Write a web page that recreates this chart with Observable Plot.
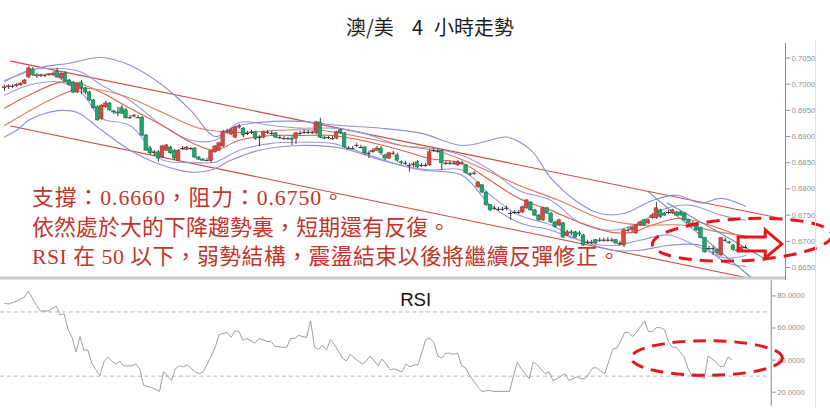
<!DOCTYPE html>
<html><head><meta charset="utf-8">
<script src="https://cdn.jsdelivr.net/npm/d3@7"></script>
<script src="https://cdn.jsdelivr.net/npm/@observablehq/plot@0.6"></script>
<style>
html,body{margin:0;padding:0;background:#fff;}
#wrap{position:relative;width:830px;height:408px;overflow:hidden;font-family:"Liberation Sans",Arial,sans-serif;}
#price{position:absolute;top:43px;left:0;}
#rsi{position:absolute;top:280px;left:0;width:815px;height:128px;overflow:hidden;}
#over{position:absolute;left:0;top:0;}
#edge{position:absolute;left:815px;top:40px;width:1px;height:368px;background:#e2e2e2;}
</style></head>
<body><div id="wrap"><div id="price"></div><div id="rsi"></div><div id="edge"></div></div>
<script>
// ---- data (prices in pips: 1 pip = 0.0001) ----
const titleParts = ["澳/美", "4", "小時走勢"];
const noteLines = ["支撐：0.6660，阻力：0.6750。", "依然處於大的下降趨勢裏，短期還有反復。", "RSI 在 50 以下，弱勢結構，震盪結束以後將繼續反彈修正。"];
const priceTicks = [0.6650, 0.6700, 0.6750, 0.6800, 0.6850, 0.6900, 0.6950, 0.7000, 0.7050];
const rsiTicks = [20, 40, 60, 80];
const rsiLevels = [30, 70];

const openP = [6992,6994,6996,6996,6998,7001,7013,7028,7017,7015,7017,7017,7017,7024,7011,7020,7007,7003,6984,7003,
6992,6984,6969,6956,6933,6956,6963,6948,6946,6954,6950,6936,6938,6936,6936,6902,6877,6870,6870,6860,
6873,6879,6873,6854,6877,6875,6877,6877,6860,6856,6854,6853,6870,6873,6881,6908,6904,6898,6917,6915,
6906,6908,6908,6898,6898,6908,6906,6906,6898,6896,6896,6896,6896,6906,6908,6908,6908,6906,6927,6898,
6898,6896,6896,6912,6906,6877,6877,6883,6879,6879,6868,6870,6873,6877,6864,6858,6868,6864,6851,6849,
6845,6845,6851,6845,6845,6845,6873,6872,6873,6849,6849,6849,6845,6849,6845,6828,6830,6803,6807,6793,
6769,6763,6761,6761,6763,6753,6755,6755,6755,6763,6774,6759,6749,6740,6763,6753,6736,6730,6734,6711,
6717,6717,6715,6711,6698,6698,6702,6702,6702,6702,6702,6702,6696,6692,6721,6721,6715,6730,6740,6734,
6744,6744,6759,6753,6755,6753,6755,6755,6753,6740,6734,6734,6725,6706,6686,6686,6683,6673,6702,6698,
6692,6683,6683,6688];
const closeP = [6994,6996,6996,6998,7001,7007,7030,7017,7015,7017,7017,7019,7020,7013,7020,7005,6999,6984,7001,6992,
6984,6969,6954,6931,6959,6963,6950,6946,6944,6944,6935,6936,6940,6936,6902,6873,6868,6870,6858,6881,
6883,6868,6858,6873,6877,6879,6877,6860,6856,6854,6854,6872,6881,6887,6908,6910,6912,6917,6919,6902,
6906,6908,6896,6898,6908,6908,6906,6898,6898,6896,6896,6894,6906,6906,6908,6908,6908,6927,6898,6896,
6898,6896,6908,6906,6879,6877,6877,6883,6879,6868,6868,6873,6877,6868,6858,6868,6868,6854,6849,6849,
6845,6847,6841,6845,6845,6870,6873,6872,6849,6849,6849,6849,6851,6849,6830,6826,6830,6812,6793,6769,
6759,6763,6761,6761,6763,6753,6755,6755,6765,6778,6759,6749,6740,6763,6753,6736,6727,6740,6707,6717,
6715,6707,6713,6692,6698,6698,6696,6702,6702,6702,6702,6696,6696,6721,6721,6726,6730,6736,6730,6740,
6749,6763,6746,6749,6755,6759,6749,6749,6740,6734,6734,6721,6706,6679,6686,6686,6677,6706,6702,6696,
6683,6683,6688,6688];
const highP = [6998,6999,6999,7001,7003,7009,7034,7032,7020,7019,7019,7020,7024,7030,7022,7024,7009,7005,7003,7007,
6994,6986,6971,6959,6961,6967,6965,6950,6956,6959,6954,6940,6942,6940,6938,6904,6881,6873,6873,6883,
6885,6881,6875,6875,6881,6881,6879,6879,6862,6858,6858,6873,6883,6889,6912,6914,6915,6919,6923,6917,
6910,6912,6910,6902,6910,6912,6910,6908,6902,6900,6898,6900,6908,6910,6912,6912,6910,6929,6935,6900,
6900,6900,6910,6914,6908,6881,6881,6887,6883,6881,6872,6877,6881,6881,6866,6870,6872,6868,6853,6853,
6849,6851,6854,6849,6849,6875,6877,6875,6875,6853,6853,6853,6854,6853,6847,6831,6833,6814,6808,6795,
6770,6767,6765,6765,6767,6757,6759,6759,6767,6780,6776,6761,6751,6765,6765,6755,6738,6742,6736,6721,
6721,6719,6719,6713,6702,6702,6704,6706,6706,6707,6706,6704,6700,6723,6726,6728,6732,6738,6742,6742,
6753,6774,6761,6755,6759,6761,6757,6757,6755,6742,6738,6736,6727,6707,6690,6690,6685,6707,6706,6700,
6694,6686,6690,6692];
const lowP = [6986,6990,6992,6994,6996,6999,7011,7015,7011,7013,7013,7015,7015,7011,7007,7003,6996,6982,6982,6980,
6980,6967,6952,6929,6931,6954,6948,6942,6938,6942,6933,6933,6936,6935,6900,6872,6864,6862,6851,6858,
6872,6866,6854,6853,6873,6873,6873,6858,6854,6853,6853,6849,6868,6872,6879,6904,6902,6896,6914,6898,
6902,6904,6893,6881,6896,6904,6902,6896,6894,6893,6893,6883,6885,6902,6904,6904,6904,6904,6896,6894,
6894,6893,6894,6904,6877,6875,6875,6879,6877,6864,6858,6868,6872,6864,6854,6856,6864,6851,6845,6845,
6832,6841,6839,6841,6841,6843,6870,6868,6835,6845,6845,6845,6843,6845,6828,6824,6826,6801,6791,6767,
6757,6759,6757,6757,6759,6740,6751,6751,6753,6761,6757,6748,6738,6738,6751,6734,6725,6728,6706,6709,
6711,6706,6709,6690,6694,6694,6694,6698,6698,6698,6698,6694,6690,6688,6717,6717,6713,6728,6728,6732,
6742,6742,6744,6748,6751,6751,6748,6748,6738,6732,6730,6719,6704,6677,6683,6673,6673,6671,6698,6694,
6681,6679,6681,6685];

// indicator lines: [bar index, price in pips]
const bandOuterUpper = [[0,7007],[9,7032],[16,7040],[24,7051],[31,7036],[39,6998],[46,6950],[52,6900],[57,6919],[63,6927],[73,6929],[83,6921],[93,6916],[103,6906],[113,6883],[120,6893],[124,6899],[130,6874],[135,6820],[141,6778],[147,6753],[153,6753],[160,6778],[166,6788],[172,6773],[177,6782],[183,6767]];
const bandInnerUpper = [[0,7004],[6,7026],[14,7030],[19,7023],[24,6998],[31,6969],[39,6921],[46,6893],[52,6893],[58,6927],[66,6921],[73,6916],[81,6916],[88,6908],[98,6883],[105,6878],[113,6864],[120,6836],[127,6797],[135,6778],[142,6736],[150,6721],[157,6736],[162,6759],[169,6769],[177,6750],[183,6740]];
const bandInnerLower = [[0,6979],[6,6998],[14,7004],[19,6984],[24,6935],[31,6921],[39,6855],[46,6851],[52,6851],[58,6874],[66,6887],[73,6889],[81,6887],[88,6870],[98,6845],[105,6836],[113,6836],[120,6788],[127,6750],[135,6731],[142,6702],[150,6692],[157,6702],[164,6712],[172,6687],[178,6668],[183,6673]];
const bandOuterLower = [[0,6899],[3,6912],[6,6931],[10,6944],[14,6950],[18,6946],[24,6912],[31,6874],[39,6845],[46,6832],[51,6836],[56,6855],[63,6874],[73,6883],[83,6878],[93,6855],[103,6836],[113,6826],[120,6769],[127,6736],[135,6721],[142,6702],[150,6683],[157,6683],[164,6692],[172,6692],[178,6660],[183,6652]];
const maFast = [[0,6954],[6,6979],[14,7004],[19,7000],[24,6984],[31,6954],[39,6921],[46,6889],[52,6874],[58,6893],[66,6902],[73,6902],[81,6902],[88,6893],[98,6874],[105,6858],[113,6849],[120,6816],[127,6782],[135,6759],[142,6736],[150,6717],[155,6717],[160,6731],[167,6744],[174,6731],[183,6706]];
const maSlow = [[0,6921],[11,6969],[19,6992],[29,6979],[39,6946],[48,6916],[58,6908],[68,6912],[78,6912],[88,6899],[98,6883],[108,6870],[118,6839],[127,6807],[137,6778],[147,6744],[157,6731],[167,6731],[177,6717],[183,6710]];
const channelUpper = [[1.5,7044],[190.9,6745]];
const channelLower = [[1.5,6920],[184.2,6629]];
const shortLineA = [[159.1,6794],[184.7,6629]];
const shortLineB = [[163.7,6773],[187.5,6668]];

// RSI: bar index, value
const rsiIdx = [0,1,3,5,6,8,9,11,13,14,15,16,17,18,19,20,21,22,24,25,26,27,28,29,30,32,33,34,35,37,39,40,41,42,43,44,45,46,48,49,50,52,53,54,56,57,58,59,60,61,63,64,66,67,68,70,71,72,73,74,75,76,77,78,79,80,81,82,83,85,86,87,88,90,91,92,94,95,96,97,98,100,101,102,103,104,106,107,108,109,110,111,112,113,114,115,116,117,119,120,122,123,124,126,127,129,130,132,133,134,136,137,138,139,141,142,144,145,146,147,148,149,150,151,153,154,155,156,157,158,159,160,161,162,163,164,165,166,167,168,169,171,172,173,175,176,177,178,179,180,181,182,183];
const rsiVal = [75.5,74.9,76.8,79.2,82.9,74.3,70.6,70.6,73.7,68.2,68.8,59.0,54.1,45.0,54.7,46.2,46.2,37.6,30.3,38.8,41.9,39.4,37.6,39.4,36.4,36.4,37.6,34.6,24.2,22.9,20.5,32.7,30.3,27.2,34.6,36.4,35.8,37.0,32.7,31.5,32.7,42.5,48.0,56.0,57.2,54.1,58.4,57.8,52.3,53.5,50.5,53.5,51.7,51.7,48.6,48.0,48.0,53.5,53.5,55.4,54.7,54.1,64.5,48.0,46.8,49.2,46.2,52.9,49.8,41.3,39.4,43.7,41.3,37.6,39.4,42.5,36.4,40.7,37.6,34.0,34.6,32.7,37.6,35.8,37.0,37.0,52.9,53.5,51.1,42.5,41.3,44.3,44.3,43.7,44.3,36.4,35.2,30.3,23.6,20.5,21.1,20.5,20.5,20.5,20.5,38.8,34.6,28.4,38.8,37.0,31.5,32.7,27.2,28.4,31.5,27.2,29.7,28.4,28.4,31.5,35.2,35.2,33.3,31.5,46.8,47.4,51.7,57.2,57.2,54.7,57.2,60.9,64.5,57.8,57.8,60.2,60.2,59.0,51.7,48.0,48.0,41.9,34.6,29.7,29.7,28.4,42.5,40.7,38.8,35.8,36.4,41.9,40.1];

// annotations (data space)
const priceEllipse = {i: 182.3, v: 0.6702, di: 22.2, dv: 0.0040, rot: -3};
const rsiEllipse = {i: 176.8, v: 41.0, di: 19.0, dv: 10.8, rot: 0};
const bigArrow = {tail: 181.3, neck: 188.0, tip: 192.1, v: 0.6694};

// ---- build ----
const P = v => v / 10000;
const candles = openP.map((o, i) => ({i, o: P(o), c: P(closeP[i]), h: P(highP[i]), l: P(lowP[i])}));
const toPts = arr => arr.map(([i, p]) => ({i, p: P(p)}));
const xDomain = [-0.99, 192.88];
const RED = "#d8483f", GREEN = "#22a46c", ANN = "#e8161c";
const candleFill = d => d.c > d.o ? RED : d.c < d.o ? GREEN : "#333";
const candleStroke = d => d.c > d.o ? "#a8312b" : d.c < d.o ? "#17784f" : "#333";

const ellipseMark = e => (index, {x, y}) => {
  const cx = x(e.i), cy = y(e.v);
  const rx = Math.abs(x(e.i + e.di) - cx), ry = Math.abs(y(e.v + e.dv) - cy);
  return d3.create("svg:ellipse").attr("cx", cx).attr("cy", cy).attr("rx", rx).attr("ry", ry)
    .attr("transform", `rotate(${e.rot} ${cx} ${cy})`)
    .attr("fill", "none").attr("stroke", ANN).attr("stroke-width", 3).attr("stroke-dasharray", "13,8").node();
};
const arrowMark = a => (index, {x, y}) => {
  const x0 = x(a.tail), x1 = x(a.neck), x2 = x(a.tip), cy = y(a.v);
  const pts = [[x0, cy - 7], [x1, cy - 7], [x1, cy - 14], [x2, cy], [x1, cy + 14], [x1, cy + 7], [x0, cy + 7]];
  return d3.create("svg:polygon").attr("points", pts.map(p => p.join(",")).join(" "))
    .attr("fill", "none").attr("stroke", ANN).attr("stroke-width", 3).attr("stroke-linejoin", "miter").node();
};
const bottomRule = (index, s, v, dim) => d3.create("svg:line").attr("x1", 0).attr("x2", dim.width - dim.marginRight)
  .attr("y1", dim.height - 2).attr("y2", dim.height - 2).attr("stroke", "#c9c9c9").attr("stroke-width", 3).node();

const lineOpts = (stroke) => ({x: "i", y: "p", stroke, strokeWidth: 1.1, curve: "catmull-rom"});

const price = Plot.plot({
  width: 830, height: 237, marginTop: 0, marginBottom: 0, marginLeft: 0, marginRight: 45,
  style: {background: "transparent", fontFamily: "Liberation Sans, Arial, sans-serif"},
  x: {domain: xDomain, axis: null},
  y: {domain: [0.66251, 0.70777]},
  marks: [
    Plot.line(toPts(channelUpper), lineOpts("#d0493f")),
    Plot.line(toPts(channelLower), lineOpts("#d0493f")),
    Plot.line(toPts(bandOuterUpper), lineOpts("#8e90da")),
    Plot.line(toPts(bandOuterLower), lineOpts("#8e90da")),
    Plot.line(toPts(bandInnerUpper), lineOpts("#9a9ce0")),
    Plot.line(toPts(bandInnerLower), lineOpts("#9a9ce0")),
    Plot.line(toPts(maFast), lineOpts("#d9604f")),
    Plot.line(toPts(maSlow), lineOpts("#dc7a62")),
    Plot.line(toPts(shortLineA), lineOpts("#6d8fae")),
    Plot.line(toPts(shortLineB), lineOpts("#6d8fae")),
    Plot.ruleX(candles, {x: "i", y1: "l", y2: "h", stroke: "#3c3c3c", strokeWidth: 1}),
    Plot.rect(candles.filter(d => d.o !== d.c), {x1: d => d.i - 0.44, x2: d => d.i + 0.44, y1: "o", y2: "c", fill: candleFill, stroke: candleStroke, strokeWidth: 0.6}),
    Plot.ruleY(candles.filter(d => d.o === d.c), {y: "c", x1: d => d.i - 0.5, x2: d => d.i + 0.5, stroke: "#333", strokeWidth: 1}),
    Plot.ruleX([xDomain[1]], {stroke: "#8a8a8a"}),
    Plot.axisY({anchor: "right", ticks: priceTicks, tickFormat: d => d.toFixed(4), tickSize: 4, tickPadding: 2, fontSize: 7.8, color: "#8f8f8f", label: null}),
    bottomRule,
    ellipseMark(priceEllipse),
    arrowMark(bigArrow)
  ]
});
document.getElementById("price").appendChild(price);

const rsiData = rsiIdx.map((i, k) => ({i, v: rsiVal[k]}));
const rsi = Plot.plot({
  width: 830, height: 128, marginTop: 0, marginBottom: 0, marginLeft: 0, marginRight: 45,
  style: {background: "transparent", fontFamily: "Liberation Sans, Arial, sans-serif"},
  x: {domain: xDomain, axis: null},
  y: {domain: [11.3, 89.6]},
  marks: [
    Plot.ruleY(rsiLevels, {stroke: "#b5b5b5", strokeDasharray: "4,3", strokeWidth: 1}),
    Plot.line(rsiData, {x: "i", y: "v", stroke: "#a992ad", strokeWidth: 1}),
    Plot.ruleX([xDomain[1]], {stroke: "#8a8a8a"}),
    Plot.axisY({anchor: "right", ticks: rsiTicks, tickFormat: d => d.toFixed(4), tickSize: 4, tickPadding: 2, fontSize: 7.8, color: "#8f8f8f", label: null}),
    Plot.text(["RSI"], {frameAnchor: "top-left", dx: 407, dy: 20, text: d => d, fontSize: 19, fill: "#111", textAnchor: "start", lineAnchor: "middle"}),
    ellipseMark(rsiEllipse)
  ]
});
document.getElementById("rsi").appendChild(rsi);

// title and annotation text overlay
const over = d3.select("#wrap").append("svg").attr("id", "over").attr("width", 830).attr("height", 408);
const titleX = [346, 412, 434];
over.selectAll("text.t").data(titleParts).join("text").attr("class", "t")
  .attr("x", (d, k) => titleX[k]).attr("y", 35)
  .attr("font-family", "Noto Sans CJK TC, sans-serif").attr("font-size", 20).attr("fill", "#1e1e1e")
  .text(d => d);
const noteBase = [205, 234.5, 264], noteLen = [312, 418, 588];
over.selectAll("text.n").data(noteLines).join("text").attr("class", "n")
  .attr("x", 32).attr("y", (d, k) => noteBase[k])
  .attr("textLength", (d, k) => noteLen[k]).attr("lengthAdjust", "spacing")
  .attr("font-family", "Liberation Serif, Noto Sans CJK TC, serif").attr("font-size", 21.8).attr("fill", "#c1352b")
  .attr("xml:space", "preserve").style("white-space", "pre")
  .text(d => d);
</script>
</body></html>
